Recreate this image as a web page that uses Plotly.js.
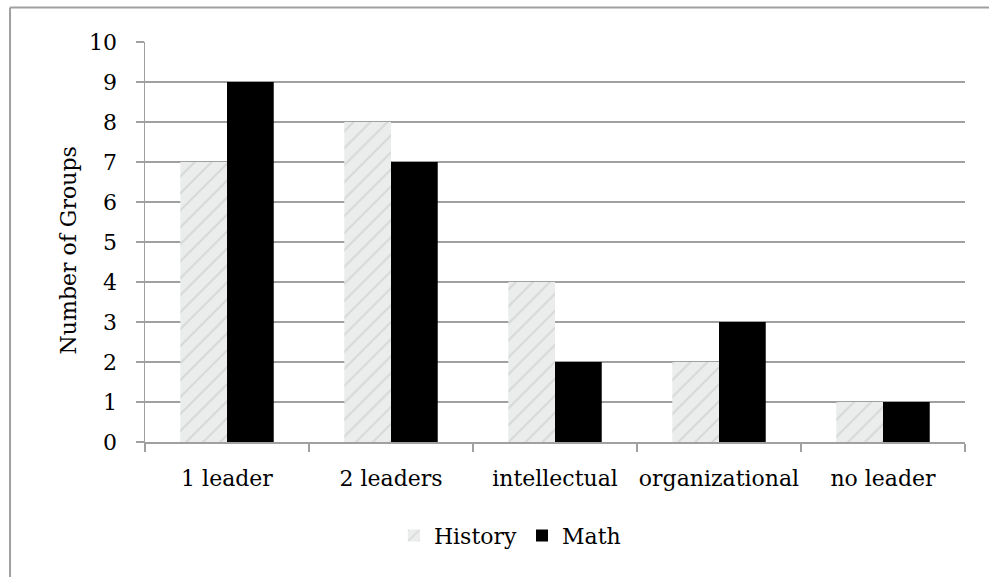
<!DOCTYPE html>
<html>
<head>
<meta charset="utf-8">
<script src="https://cdn.plot.ly/plotly-3.0.1.min.js"></script>
<style>html,body{margin:0;padding:0;background:#fff;}</style>
</head>
<body>
<div id="chart" style="width:989px;height:577px;"></div>
<script>
const categories = ["1 leader", "2 leaders", "intellectual", "organizational", "no leader"];
const historyValues = [7, 8, 4, 2, 1];
const mathValues = [9, 7, 2, 3, 1];
const yTicks = [0, 1, 2, 3, 4, 5, 6, 7, 8, 9, 10];

const font = {family: "DejaVu Serif, Liberation Serif, serif", size: 22, color: "#000"};

const traces = [
  {
    type: "bar", name: "History", x: categories, y: historyValues,
    marker: {
      color: "#e6e7e7",
      line: {width: 0},
      pattern: {shape: "/", fgcolor: "#d4d5d5", bgcolor: "#ebecec", size: 12, solidity: 0.15, fillmode: "replace"}
    }
  },
  {
    type: "bar", name: "Math", x: categories, y: mathValues,
    marker: {color: "#000000", line: {width: 0}}
  }
];

const layout = {
  width: 989, height: 577,
  margin: {l: 145, r: 24, t: 42, b: 135},
  paper_bgcolor: "#ffffff", plot_bgcolor: "#ffffff",
  font: font,
  barmode: "group",
  bargap: 0.43, bargroupgap: 0,
  showlegend: true,
  legend: {orientation: "h", x: 0.445, xanchor: "center", y: -0.234, yanchor: "middle",
           font: font, itemwidth: 30, traceorder: "normal"},
  xaxis: {
    type: "category", tickson: "boundaries", ticks: "outside", ticklen: 8, tickcolor: "#a0a0a0", tickwidth: 1.5,
    showline: true, linecolor: "#a0a0a0", linewidth: 1.5, showgrid: false, zeroline: false,
    tickangle: 0, ticklabelstandoff: 16, tickfont: font
  },
  yaxis: {
    range: [0, 10], tickvals: yTicks, ticktext: yTicks.map(String),
    ticks: "outside", ticklen: 8, tickcolor: "#a0a0a0", tickwidth: 1.5,
    showline: true, linecolor: "#a0a0a0", linewidth: 1.5,
    showgrid: true, gridcolor: "#a0a0a0", gridwidth: 1.5, zeroline: false,
    ticklabelstandoff: 14, tickfont: font
  },
  annotations: [{
    text: "Number of Groups", xref: "paper", yref: "paper", x: -0.0939, y: 0.479,
    xanchor: "center", yanchor: "middle", textangle: -90, showarrow: false, font: font
  }],
  shapes: [
    {type: "line", xref: "paper", yref: "paper", x0: -0.1646, x1: 1.1, y0: 1.086, y1: 1.086, line: {color: "#a0a0a0", width: 2}},
    {type: "line", xref: "paper", yref: "paper", x0: -0.1646, x1: -0.1646, y0: 1.086, y1: -0.4, line: {color: "#a0a0a0", width: 2}}
  ]
};

Plotly.newPlot("chart", traces, layout, {displayModeBar: false, staticPlot: true});
</script>
</body>
</html>
